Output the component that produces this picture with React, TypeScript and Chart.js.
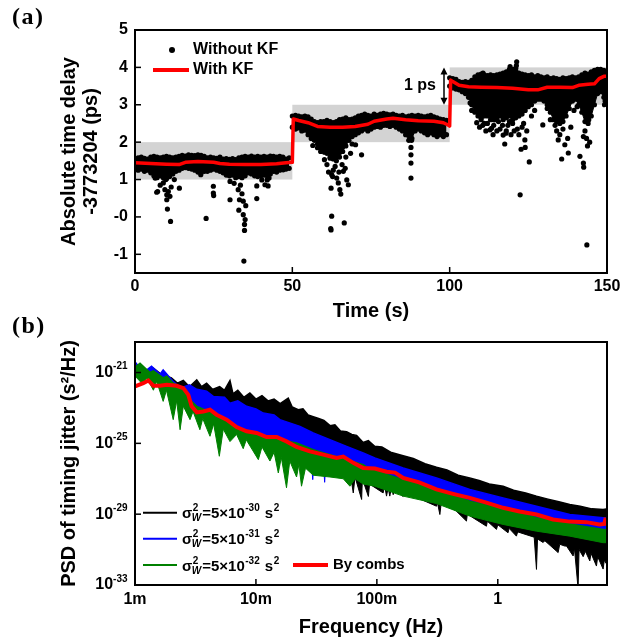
import React, { useEffect, useRef } from 'react';
import { Chart, registerables } from 'chart.js';

Chart.register(...registerables);

const FAM = '"Liberation Sans", Arial, Helvetica, sans-serif';
const SERIF = '"Liberation Serif", "Times New Roman", serif';

// ================= Panel (a) data =================
const timeTicks = [0, 50, 100, 150];
const delayTicks = [-1, 0, 1, 2, 3, 4, 5];
const delayTickLabels = ['-1', '-0', '1', '2', '3', '4', '5'];

const bandStart = [0, 50, 100];
const bandEnd = [50, 100, 150];
const bandLow = [1, 2, 3];
const bandHigh = [2, 3, 4];

const arrowTime = 98.2;
const arrowFrom = 3;
const arrowTo = 4;
const arrowLabel = '1 ps';

const legendLabelsA = ['Without KF', 'With KF'];

// dense band of "Without KF" points, one upper & one lower edge value per second
const seg1Start = 0;
const seg1Upper = [1.55, 1.58, 1.6, 1.57, 1.55, 1.6, 1.62, 1.6, 1.58, 1.6, 1.62, 1.6, 1.58, 1.6, 1.62, 1.65, 1.63, 1.66, 1.65, 1.64, 1.66, 1.65, 1.62, 1.58, 1.6, 1.58, 1.57, 1.6, 1.55, 1.56, 1.54, 1.56, 1.53, 1.58, 1.6, 1.62, 1.6, 1.63, 1.6, 1.62, 1.6, 1.62, 1.6, 1.63, 1.62, 1.6, 1.62, 1.6, 1.55, 1.58];
const seg1Lower = [1.3, 1.25, 1.28, 1.22, 1.25, 1.18, 1.1, 1.05, 1.1, 1.05, 1.02, 1.08, 1.15, 1.22, 1.25, 1.3, 1.32, 1.3, 1.28, 1.25, 1.2, 1.18, 1.22, 1.22, 1.25, 1.28, 1.25, 1.22, 1.18, 1.12, 1.1, 1.12, 1.05, 1.08, 1.05, 1.1, 1.18, 1.15, 1.1, 1.08, 1.1, 1.12, 1.1, 1.15, 1.22, 1.2, 1.25, 1.3, 1.28, 1.3];
const seg2Start = 50;
const seg2Upper = [2.7, 2.72, 2.7, 2.68, 2.7, 2.68, 2.62, 2.55, 2.52, 2.55, 2.55, 2.58, 2.55, 2.52, 2.55, 2.6, 2.62, 2.65, 2.6, 2.62, 2.65, 2.7, 2.72, 2.75, 2.72, 2.7, 2.75, 2.72, 2.75, 2.77, 2.75, 2.73, 2.75, 2.72, 2.7, 2.72, 2.68, 2.7, 2.72, 2.7, 2.72, 2.7, 2.68, 2.7, 2.72, 2.68, 2.65, 2.62, 2.6, 2.58];
const seg2Lower = [2.4, 2.35, 2.38, 2.3, 2.32, 2.2, 2.1, 2.05, 1.95, 1.85, 1.8, 1.7, 1.6, 1.55, 1.5, 1.6, 1.75, 1.9, 2.05, 2.15, 2.2, 2.25, 2.3, 2.35, 2.3, 2.35, 2.4, 2.42, 2.4, 2.45, 2.45, 2.42, 2.45, 2.4, 2.35, 2.3, 2.2, 2.05, 2.1, 2.3, 2.35, 2.3, 2.25, 2.2, 2.25, 2.2, 2.15, 2.2, 2.15, 2.2];
const seg3Start = 100;
const seg3Upper = [3.72, 3.7, 3.68, 3.62, 3.6, 3.62, 3.6, 3.65, 3.75, 3.8, 3.82, 3.8, 3.78, 3.8, 3.78, 3.8, 3.82, 3.85, 3.88, 3.9, 3.95, 3.9, 3.85, 3.82, 3.8, 3.78, 3.8, 3.75, 3.78, 3.75, 3.72, 3.75, 3.7, 3.72, 3.7, 3.68, 3.72, 3.7, 3.72, 3.75, 3.72, 3.75, 3.8, 3.85, 3.82, 3.88, 3.92, 3.95, 3.95, 3.92, 3.85];
const seg3Lower = [3.5, 3.45, 3.42, 3.4, 3.35, 3.3, 3.2, 3.0, 2.8, 2.7, 2.65, 2.7, 2.7, 2.6, 2.6, 2.65, 2.7, 2.6, 2.65, 2.7, 2.6, 2.65, 2.7, 2.75, 2.85, 2.95, 3.0, 3.1, 3.15, 3.15, 3.1, 3.0, 2.8, 2.6, 2.55, 2.5, 2.55, 2.7, 2.9, 3.1, 3.15, 3.0, 2.8, 2.55, 2.5, 2.7, 3.0, 3.3, 3.35, 3.2, 3.1];

// scattered "Without KF" points [time s, delay ps]
const withoutKFOutliers = [
  [6.4, 1.04], [6.9, 0.66], [7.2, 0.68], [8.0, 0.85], [9.0, 0.91], [9.5, 0.73], [9.8, 1.0], [10.1, 0.59], [10.6, 0.68], [11.1, 0.55],
  [10.1, 0.46], [10.3, 0.21], [11.3, -0.12], [11.5, 0.8], [12.5, 1.0], [14.1, 0.77], [20.9, 1.13], [22.6, -0.04], [24.9, 0.82], [24.9, 0.64],
  [25.0, 0.57], [30.2, 0.95], [30.2, 0.46], [31.5, 0.9], [32.8, 0.73], [33.2, 0.46], [33.5, 0.85], [34.0, 0.62], [34.4, 0.42], [33.0, 0.18],
  [35.2, 0.3], [34.4, 0.06], [35.0, -0.07], [34.8, -0.2], [34.8, -0.36], [34.6, -1.18], [38.7, 0.83], [38.7, 0.49], [40.3, 0.99], [41.3, 0.86],
  [42.0, 0.99], [42.3, 0.83], [42.6, 1.04], [47.1, 1.26],
  [56.5, 1.91], [58.0, 1.85], [59.0, 1.75], [60.2, 1.73], [60.2, 1.53], [61.0, 1.4], [61.5, 1.2], [62.0, 1.57], [62.5, 1.13], [62.8, 1.08],
  [63.0, 1.25], [63.6, 1.35], [64.1, 1.04], [64.6, 0.91], [64.8, 1.2], [65.1, 0.73], [65.4, 0.61], [62.3, 0.77], [62.5, 0.02], [62.2, -0.31],
  [62.3, -0.35], [66.5, -0.16], [66.2, 1.22], [65.8, 1.4], [66.8, 1.3], [67.0, 1.6], [67.3, 0.99], [67.8, 0.86], [68.5, 1.7], [69.0, 1.95],
  [70.1, 1.93], [72.0, 1.66], [87.7, 1.86], [87.7, 1.66], [87.7, 1.44], [87.7, 1.04], [87.9, 2.05],
  [106.5, 3.05], [107.0, 2.85], [108.6, 2.52], [110.0, 2.6], [110.6, 3.85], [111.0, 2.5], [112.0, 2.5], [112.8, 2.33], [113.3, 2.37], [114.0, 2.45],
  [115.5, 2.55], [116.0, 2.35], [117.0, 2.19], [117.5, 1.95], [117.9, 2.24], [118.5, 2.45], [119.0, 3.95], [119.2, 4.02], [119.5, 2.2], [120.0, 2.5],
  [121.0, 3.98], [121.2, 4.05], [121.3, 4.15], [121.5, 2.35], [122.4, 0.59], [122.7, 1.81], [123.0, 2.4], [123.9, 2.06], [124.0, 1.86], [124.5, 2.3],
  [125.3, 1.47], [126.0, 2.7], [127.0, 2.85], [129.6, 2.46], [131.0, 2.9], [132.0, 2.6], [133.5, 2.45], [134.0, 2.3], [134.5, 2.06], [135.0, 2.2],
  [135.6, 1.55], [136.0, 2.35], [136.6, 1.93], [137.5, 2.1], [137.7, 1.71], [138.5, 2.4], [139.5, 2.85], [140.5, 2.95], [141.4, 1.62], [142.5, 2.15],
  [142.5, 1.44], [142.6, 1.33], [143.0, 2.3], [143.5, 2.1], [143.6, -0.75], [143.8, 1.9], [144.0, 2.73], [144.2, 2.6], [144.5, 2.0], [149.2, 3.0],
  [149.3, 3.3], [149.4, 3.1], [109.5, 2.4], [111.5, 2.3], [113.8, 2.2], [115.0, 2.3], [116.8, 2.45], [118.0, 2.3], [120.5, 2.3], [122.0, 2.2],
  [123.5, 2.5], [114.5, 2.6], [119.0, 2.55], [110.5, 2.45],
];

// "With KF" (Kalman filtered) trace
const kfTimes = [0, 5, 10, 14, 16, 20, 25, 27, 30, 35, 40, 45, 48, 50, 50.3, 52, 55, 58, 62, 66, 70, 74, 76, 80, 82, 86, 90, 95, 98, 99.5, 100, 100.3, 101, 103, 106, 110, 115, 120, 125, 128, 131, 135, 139, 141, 144, 146, 147.5, 149, 150];
const kfDelays = [1.45, 1.43, 1.41, 1.4, 1.46, 1.48, 1.46, 1.43, 1.41, 1.4, 1.4, 1.42, 1.45, 1.46, 2.62, 2.58, 2.52, 2.42, 2.4, 2.4, 2.42, 2.48, 2.56, 2.62, 2.64, 2.6, 2.57, 2.56, 2.52, 2.46, 2.43, 3.66, 3.62, 3.52, 3.48, 3.47, 3.46, 3.44, 3.4, 3.4, 3.47, 3.47, 3.46, 3.52, 3.55, 3.56, 3.7, 3.76, 3.76];

// ================= Panel (b) data =================
const freqTicks = [0.001, 0.01, 0.1, 1];
const freqTickLabels = ['1m', '10m', '100m', '1'];
const psdTickExps = [-21, -25, -29, -33];
const sigmaCoef = 5;
const sigmaExps = [-30, -31, -32];
const seriesColors = ['#000000', '#0000ff', '#008000'];
const combsLabel = 'By combs';

// [frequency Hz, log10 PSD]
const blackTop = [
  [0.001, -20.94], [0.0011, -20.57], [0.00125, -21.03], [0.00142, -20.75], [0.00161, -21.05], [0.00171, -21.13], [0.002, -21.3], [0.00224, -21.6],
  [0.00251, -21.45], [0.00282, -21.8], [0.00324, -21.41], [0.00355, -21.8], [0.00391, -21.6], [0.00437, -21.95], [0.00501, -21.8], [0.0055, -22.0],
  [0.0061, -21.45], [0.00646, -22.2], [0.00708, -22.0], [0.00794, -22.4], [0.00891, -22.15], [0.01, -22.5], [0.01122, -22.3], [0.01259, -22.6],
  [0.01413, -22.5], [0.01585, -22.75], [0.0185, -22.45], [0.01995, -22.95], [0.02239, -23.1], [0.0245, -23.05], [0.027, -23.4], [0.0298, -23.5],
  [0.033, -23.6], [0.0365, -23.7], [0.041, -24.0], [0.045, -23.95], [0.05, -24.3], [0.0562, -24.35], [0.062, -24.5], [0.068, -24.55], [0.077, -24.95],
  [0.085, -24.85], [0.096, -25.17], [0.11, -25.2], [0.13, -25.5], [0.165, -25.7], [0.2, -25.85], [0.25, -26.15], [0.3112, -26.35], [0.38, -26.5],
  [0.47, -26.8], [0.5861, -26.95], [0.7, -27.1], [0.85, -27.3], [1.107, -27.42], [1.35, -27.65], [1.7, -27.8], [2.089, -27.98], [2.6, -28.15],
  [3.2, -28.3], [3.936, -28.45], [4.8, -28.55], [6.0, -28.7], [7.43, -28.74], [7.9, -28.7],
];
const blackBottom = [
  [0.001, -21.0], [0.002, -21.8], [0.004, -22.6], [0.008, -23.6], [0.015, -24.5], [0.03, -25.5], [0.05, -26.1], [0.06, -26.6], [0.0638, -27.8],
  [0.066, -26.9], [0.0748, -28.17], [0.0759, -27.0], [0.0851, -28.0], [0.087, -27.3], [0.1127, -27.8], [0.116, -27.4], [0.1202, -27.98], [0.124, -27.5],
  [0.1279, -27.98], [0.132, -27.5], [0.1365, -27.9], [0.14, -27.6], [0.165, -28.0], [0.17, -27.8], [0.22, -28.1], [0.3112, -28.55], [0.316, -28.3],
  [0.3319, -29.02], [0.34, -28.4], [0.45, -28.8], [0.5508, -29.39], [0.56, -29.0], [0.8054, -29.68], [0.82, -29.4], [0.975, -29.86], [1.0, -29.6],
  [1.216, -30.05], [1.24, -29.8], [1.426, -30.24], [1.46, -30.0], [2.0, -30.3], [2.089, -32.12], [2.13, -30.4], [2.371, -30.6], [2.45, -30.5],
  [3.155, -31.17], [3.25, -30.7], [3.581, -30.8], [3.7, -30.8], [4.198, -31.36], [4.3, -30.9], [4.613, -33.2], [4.7, -31.0], [5.082, -31.4],
  [5.3, -31.1], [5.768, -31.64], [5.9, -31.2], [6.546, -31.93], [6.7, -31.4], [7.43, -32.1], [7.6, -31.6], [7.9, -31.8],
];
const blueTop = [
  [0.001, -20.9], [0.00102, -20.47], [0.00117, -21.0], [0.00137, -20.65], [0.00161, -21.1], [0.00171, -20.85], [0.00207, -21.5], [0.00236, -21.88],
  [0.00282, -21.7], [0.00324, -21.95], [0.00391, -22.05], [0.00444, -22.35], [0.0055, -22.4], [0.0061, -22.73], [0.00708, -22.6], [0.00837, -22.91],
  [0.01, -23.05], [0.0115, -23.29], [0.01413, -23.4], [0.01578, -23.66], [0.02312, -24.04], [0.02979, -24.41], [0.04093, -24.79], [0.05623, -25.17],
  [0.07709, -25.54], [0.09616, -25.82], [0.165, -26.39], [0.3112, -26.95], [0.5861, -27.6], [1.107, -28.08], [2.089, -28.55], [3.936, -29.02],
  [7.43, -29.2], [7.9, -29.2],
];
const blueBottom = [
  [0.001, -21.0], [0.0015, -21.5], [0.002, -21.9], [0.0025, -22.2], [0.003, -23.0], [0.004, -23.6], [0.006, -24.1], [0.01, -24.8], [0.015, -25.1],
  [0.02, -25.3], [0.0285, -25.7], [0.0295, -27.05], [0.0305, -25.7], [0.036, -25.9], [0.037, -27.2], [0.038, -25.9], [0.05, -26.2], [0.1, -26.9],
  [0.3, -27.8], [0.6, -28.5], [1.1, -29.0], [2.1, -29.5], [4, -29.8], [7.9, -30.1],
];
const greenTop = [
  [0.001, -20.7], [0.0011, -20.47], [0.00133, -21.0], [0.00142, -20.9], [0.00171, -21.3], [0.00183, -21.2], [0.00207, -21.6], [0.00251, -21.9],
  [0.00285, -22.54], [0.00324, -22.91], [0.00444, -23.29], [0.0061, -23.85], [0.00837, -24.32], [0.0115, -24.6], [0.01578, -24.79], [0.02168, -24.98],
  [0.02979, -25.36], [0.04093, -25.64], [0.05623, -25.92], [0.07709, -26.2], [0.0875, -26.45], [0.165, -27.05], [0.3112, -27.6], [0.5861, -28.27],
  [1.107, -28.7], [2.089, -29.2], [3.936, -29.55], [7.43, -29.86], [7.9, -29.86],
];
const greenBottom = [
  [0.001, -21.2], [0.00117, -21.69], [0.00125, -21.3], [0.00142, -22.0], [0.00151, -21.5], [0.00171, -22.63], [0.00182, -22.0], [0.00207, -23.66],
  [0.00221, -22.6], [0.00236, -24.23], [0.00251, -22.9], [0.00285, -23.66], [0.00302, -23.2], [0.00344, -24.23], [0.00363, -23.6], [0.00417, -24.6],
  [0.00447, -23.9], [0.00498, -25.73], [0.00537, -24.2], [0.0061, -24.9], [0.00692, -24.5], [0.00785, -25.3], [0.00832, -24.8], [0.01047, -25.92],
  [0.01122, -25.2], [0.01306, -26.0], [0.01413, -25.5], [0.01531, -26.67], [0.01622, -25.8], [0.0179, -27.51], [0.01905, -26.0], [0.02168, -26.9],
  [0.02265, -26.2], [0.02382, -27.42], [0.0257, -26.4], [0.02979, -26.8], [0.04093, -26.9], [0.05272, -27.0], [0.05984, -27.42], [0.06607, -27.0],
  [0.07709, -27.3], [0.09616, -27.42], [0.165, -27.98], [0.3112, -28.4], [0.5861, -29.11], [1.107, -29.58], [2.089, -29.96], [3.936, -30.24],
  [7.43, -30.61], [7.9, -30.61],
];
const combsPsd = [
  [0.001, -21.79], [0.00117, -21.6], [0.00129, -21.45], [0.00142, -21.75], [0.00161, -21.75], [0.00183, -21.69], [0.00221, -21.75], [0.00251, -21.88],
  [0.00276, -22.26], [0.00294, -22.91], [0.00324, -23.25], [0.00367, -23.2], [0.00417, -23.1], [0.00473, -23.38], [0.00573, -23.66], [0.00692, -24.08],
  [0.00837, -24.32], [0.01014, -24.41], [0.01225, -24.64], [0.01483, -24.64], [0.0179, -24.89], [0.02168, -25.2], [0.02793, -25.45], [0.03606, -25.64],
  [0.04645, -25.82], [0.05272, -25.75], [0.06383, -26.1], [0.07709, -26.39], [0.09616, -26.42], [0.1202, -26.6], [0.1413, -26.65], [0.165, -26.95],
  [0.2239, -27.2], [0.3112, -27.6], [0.4266, -27.85], [0.5861, -28.08], [0.8054, -28.35], [1.107, -28.64], [1.514, -28.85], [2.089, -29.02],
  [2.864, -29.3], [3.936, -29.42], [5.408, -29.45], [6.918, -29.58], [7.586, -29.55], [7.816, -29.2],
];

// ================= helpers =================
const secPts = (start: number, vals: number[]) => vals.map((v, i) => ({ x: start + i, y: v }));
const pairPts = (arr: number[][]) => arr.map(([x, y]) => ({ x, y }));
const psdPts = (arr: number[][]) => arr.map(([f, e]) => ({ x: f, y: Math.pow(10, e) }));

function bandDataset(data: any[], fillNext: boolean) {
  return {
    data,
    showLine: true,
    fill: fillNext ? '+1' : false,
    borderColor: '#000',
    borderWidth: 1,
    backgroundColor: '#000',
    pointRadius: 2.6,
    pointHoverRadius: 2.6,
    pointBackgroundColor: '#000',
    pointBorderWidth: 0,
    order: 1,
  };
}

function psdDataset(data: any[], color: string, fillNext: boolean, order: number, width = 1) {
  return {
    data,
    showLine: true,
    fill: fillNext ? '+1' : false,
    borderColor: color,
    backgroundColor: color,
    borderWidth: width,
    pointRadius: 0,
    pointHoverRadius: 0,
    tension: 0,
    order,
  };
}

const tickFont = { family: FAM, size: 16, weight: 'bold' as const };
const titleFont = { family: FAM, size: 20, weight: 'bold' as const, lineHeight: 1.1 };

function drawFrameAndTicks(ctx: any, ca: any, xs: any, ys: any, xVals: number[], yVals: number[]) {
  ctx.save();
  ctx.strokeStyle = '#000';
  ctx.lineWidth = 1.5;
  xVals.forEach((v) => {
    const px = xs.getPixelForValue(v);
    ctx.beginPath();
    ctx.moveTo(px, ca.bottom);
    ctx.lineTo(px, ca.bottom - 6);
    ctx.stroke();
  });
  yVals.forEach((v) => {
    const py = ys.getPixelForValue(v);
    ctx.beginPath();
    ctx.moveTo(ca.left, py);
    ctx.lineTo(ca.left + 6, py);
    ctx.stroke();
  });
  ctx.lineWidth = 2;
  ctx.strokeRect(ca.left, ca.top, ca.right - ca.left, ca.bottom - ca.top);
  ctx.restore();
}

// ================= Panel (a) =================
const panelAPlugin = {
  id: 'panelADecor',
  beforeDatasetsDraw(chart: any) {
    const { ctx, chartArea: ca, scales } = chart;
    const xs = scales.x, ys = scales.y;
    ctx.save();
    ctx.beginPath();
    ctx.rect(ca.left, ca.top, ca.right - ca.left, ca.bottom - ca.top);
    ctx.clip();
    ctx.fillStyle = '#d3d3d3';
    for (let i = 0; i < bandStart.length; i++) {
      const x0 = xs.getPixelForValue(bandStart[i]);
      const x1 = xs.getPixelForValue(bandEnd[i]);
      const y0 = ys.getPixelForValue(bandHigh[i]);
      const y1 = ys.getPixelForValue(bandLow[i]);
      ctx.fillRect(x0, y0, x1 - x0, y1 - y0);
    }
    ctx.restore();
  },
  afterDraw(chart: any) {
    const { ctx, chartArea: ca, scales } = chart;
    const xs = scales.x, ys = scales.y;
    drawFrameAndTicks(ctx, ca, xs, ys, timeTicks, delayTicks);
    ctx.save();
    // arrow "1 ps"
    const ax = xs.getPixelForValue(arrowTime);
    const yTop = ys.getPixelForValue(arrowTo);
    const yBot = ys.getPixelForValue(arrowFrom);
    ctx.strokeStyle = '#000';
    ctx.fillStyle = '#000';
    ctx.lineWidth = 1.5;
    ctx.beginPath();
    ctx.moveTo(ax, yTop + 4);
    ctx.lineTo(ax, yBot - 4);
    ctx.stroke();
    ctx.beginPath();
    ctx.moveTo(ax, yTop);
    ctx.lineTo(ax - 3.5, yTop + 7);
    ctx.lineTo(ax + 3.5, yTop + 7);
    ctx.closePath();
    ctx.fill();
    ctx.beginPath();
    ctx.moveTo(ax, yBot);
    ctx.lineTo(ax - 3.5, yBot - 7);
    ctx.lineTo(ax + 3.5, yBot - 7);
    ctx.closePath();
    ctx.fill();
    ctx.font = `bold 16px ${FAM}`;
    ctx.textAlign = 'right';
    ctx.textBaseline = 'middle';
    ctx.fillText(arrowLabel, ax - 8, (yTop + yBot) / 2);
    // legend
    const lx = ca.left, ly = ca.top;
    ctx.beginPath();
    ctx.arc(lx + 37, ly + 20, 3, 0, Math.PI * 2);
    ctx.fill();
    ctx.textAlign = 'left';
    ctx.fillText(legendLabelsA[0], lx + 58, ly + 20);
    ctx.strokeStyle = '#ff0000';
    ctx.lineWidth = 4;
    ctx.beginPath();
    ctx.moveTo(lx + 18, ly + 40);
    ctx.lineTo(lx + 54, ly + 40);
    ctx.stroke();
    ctx.fillText(legendLabelsA[1], lx + 58, ly + 40);
    ctx.restore();
  },
};

function PanelA() {
  const ref = useRef<HTMLCanvasElement>(null);
  useEffect(() => {
    const datasets: any[] = [
      bandDataset(secPts(seg1Start, seg1Upper), true),
      bandDataset(secPts(seg1Start, seg1Lower), false),
      bandDataset(secPts(seg2Start, seg2Upper), true),
      bandDataset(secPts(seg2Start, seg2Lower), false),
      bandDataset(secPts(seg3Start, seg3Upper), true),
      bandDataset(secPts(seg3Start, seg3Lower), false),
      {
        data: pairPts(withoutKFOutliers),
        showLine: false,
        pointRadius: 2.6,
        pointHoverRadius: 2.6,
        pointBackgroundColor: '#000',
        pointBorderWidth: 0,
        backgroundColor: '#000',
        borderColor: '#000',
        order: 1,
      },
      {
        data: kfTimes.map((t, i) => ({ x: t, y: kfDelays[i] })),
        showLine: true,
        borderColor: '#ff0000',
        borderWidth: 3.5,
        pointRadius: 0,
        pointHoverRadius: 0,
        tension: 0,
        borderJoinStyle: 'round',
        fill: false,
        order: -1,
      },
    ];
    const chart = new Chart(ref.current as HTMLCanvasElement, {
      type: 'line',
      data: { datasets },
      options: {
        animation: false,
        responsive: false,
        events: [],
        layout: { padding: { top: 30, right: 23, left: 0, bottom: 0 } },
        plugins: { legend: { display: false }, tooltip: { enabled: false } },
        scales: {
          x: {
            type: 'linear',
            min: 0,
            max: 150,
            afterBuildTicks: (s: any) => { s.ticks = timeTicks.map((v) => ({ value: v })); },
            afterFit: (s: any) => { s.height = 55; },
            grid: { display: false, drawTicks: false },
            border: { display: false },
            ticks: { padding: 4, font: tickFont, color: '#000', autoSkip: false, maxRotation: 0, callback: (v: any) => String(v) },
            title: { display: true, text: 'Time (s)', font: titleFont, color: '#000', padding: { top: 0, bottom: 6 } },
          },
          y: {
            type: 'linear',
            min: -1.5,
            max: 5,
            afterBuildTicks: (s: any) => { s.ticks = delayTicks.map((v) => ({ value: v })); },
            afterFit: (s: any) => { s.width = 135; },
            grid: { display: false, drawTicks: false },
            border: { display: false },
            ticks: { padding: 7, font: tickFont, color: '#000', autoSkip: false, callback: (v: any) => delayTickLabels[delayTicks.indexOf(v)] },
            title: { display: true, text: ['Absolute time delay', '-3773204 (ps)'], font: titleFont, color: '#000', padding: { top: 58, bottom: 0 } },
          },
        },
      } as any,
      plugins: [panelAPlugin],
    });
    return () => chart.destroy();
  }, []);
  return <canvas ref={ref} width={630} height={328} style={{ position: 'absolute', left: 0, top: 0, width: 630, height: 328 }} />;
}

// ================= Panel (b) =================
function drawSigmaLabel(ctx: any, x0: number, y: number, exp: number) {
  const big = `bold 15px ${FAM}`;
  const small = `bold 10px ${FAM}`;
  const smallIt = `italic bold 10px ${FAM}`;
  let x = x0;
  const base = y + 5.5;
  ctx.textAlign = 'left';
  ctx.textBaseline = 'alphabetic';
  ctx.fillStyle = '#000';
  ctx.font = big;
  ctx.fillText('σ', x, base);
  x += ctx.measureText('σ').width + 0.5;
  ctx.font = small;
  ctx.fillText('2', x, base - 7);
  const w2 = ctx.measureText('2').width;
  ctx.font = smallIt;
  ctx.fillText('W', x - 1, base + 3);
  const wW = ctx.measureText('W').width - 1;
  x += Math.max(w2, wW) + 1;
  ctx.font = big;
  const mid = `=${sigmaCoef}×10`;
  ctx.fillText(mid, x, base);
  x += ctx.measureText(mid).width;
  ctx.font = small;
  const es = String(exp);
  ctx.fillText(es, x + 0.5, base - 7);
  x += ctx.measureText(es).width + 1.5;
  ctx.font = big;
  ctx.fillText(' s', x, base);
  x += ctx.measureText(' s').width;
  ctx.font = small;
  ctx.fillText('2', x + 0.5, base - 7);
}

const panelBPlugin = {
  id: 'panelBDecor',
  afterDraw(chart: any) {
    const { ctx, chartArea: ca, scales } = chart;
    const xs = scales.x, ys = scales.y;
    drawFrameAndTicks(ctx, ca, xs, ys, freqTicks, psdTickExps.map((e) => Math.pow(10, e)));
    ctx.save();
    // y tick labels 10^n
    const right = ca.left - 7.5;
    ctx.fillStyle = '#000';
    ctx.textAlign = 'left';
    ctx.textBaseline = 'middle';
    psdTickExps.forEach((e) => {
      const py = ys.getPixelForValue(Math.pow(10, e));
      const es = String(e);
      ctx.font = `bold 10px ${FAM}`;
      const we = ctx.measureText(es).width;
      ctx.font = `bold 16px ${FAM}`;
      const wb = ctx.measureText('10').width;
      ctx.fillText('10', right - we - wb, py);
      ctx.font = `bold 10px ${FAM}`;
      ctx.fillText(es, right - we, py - 6);
    });
    // legend
    const rows = [ca.top + 170.7, ca.top + 196.7, ca.top + 223];
    sigmaExps.forEach((e, i) => {
      ctx.strokeStyle = seriesColors[i];
      ctx.lineWidth = 2;
      ctx.beginPath();
      ctx.moveTo(ca.left + 8, rows[i]);
      ctx.lineTo(ca.left + 42, rows[i]);
      ctx.stroke();
      drawSigmaLabel(ctx, ca.left + 47, rows[i], e);
    });
    ctx.strokeStyle = '#ff0000';
    ctx.lineWidth = 4;
    ctx.beginPath();
    ctx.moveTo(ca.left + 158, rows[2]);
    ctx.lineTo(ca.left + 193, rows[2]);
    ctx.stroke();
    ctx.font = `bold 15px ${FAM}`;
    ctx.textAlign = 'left';
    ctx.textBaseline = 'middle';
    ctx.fillStyle = '#000';
    ctx.fillText(combsLabel, ca.left + 198, rows[2]);
    ctx.restore();
  },
};

function PanelB() {
  const ref = useRef<HTMLCanvasElement>(null);
  useEffect(() => {
    const datasets: any[] = [
      psdDataset(psdPts(blackTop), seriesColors[0], true, 6, 1.5),
      psdDataset(psdPts(blackBottom), seriesColors[0], false, 7),
      psdDataset(psdPts(blueTop), seriesColors[1], true, 4, 1.5),
      psdDataset(psdPts(blueBottom), seriesColors[1], false, 5),
      psdDataset(psdPts(greenTop), seriesColors[2], true, 2, 1.5),
      psdDataset(psdPts(greenBottom), seriesColors[2], false, 3),
      psdDataset(psdPts(combsPsd), '#ff0000', false, 0, 4),
    ];
    const chart = new Chart(ref.current as HTMLCanvasElement, {
      type: 'line',
      data: { datasets },
      options: {
        animation: false,
        responsive: false,
        events: [],
        layout: { padding: { top: 14, right: 23, left: 0, bottom: 0 } },
        plugins: { legend: { display: false }, tooltip: { enabled: false } },
        scales: {
          x: {
            type: 'logarithmic',
            min: 0.001,
            max: 8,
            afterBuildTicks: (s: any) => { s.ticks = freqTicks.map((v) => ({ value: v })); },
            afterFit: (s: any) => { s.height = 56; },
            grid: { display: false, drawTicks: false },
            border: { display: false },
            ticks: { padding: 5, font: tickFont, color: '#000', autoSkip: false, maxRotation: 0, callback: (v: any) => freqTickLabels[freqTicks.indexOf(v)] ?? '' },
            title: { display: true, text: 'Frequency (Hz)', font: titleFont, color: '#000', padding: { top: 0, bottom: 2.5 } },
          },
          y: {
            type: 'logarithmic',
            min: 1e-33,
            max: 5.3e-20,
            afterBuildTicks: (s: any) => { s.ticks = psdTickExps.map((e) => ({ value: Math.pow(10, e) })); },
            afterFit: (s: any) => { s.width = 135; },
            grid: { display: false, drawTicks: false },
            border: { display: false },
            ticks: { display: false },
            title: { display: true, text: 'PSD of timing jitter (s²/Hz)', font: titleFont, color: '#000', padding: { top: 58, bottom: 0 } },
          },
        },
      } as any,
      plugins: [panelBPlugin],
    });
    return () => chart.destroy();
  }, []);
  return <canvas ref={ref} width={630} height={313} style={{ position: 'absolute', left: 0, top: 328, width: 630, height: 313 }} />;
}

const panelLabelStyle: React.CSSProperties = {
  position: 'absolute',
  left: 12,
  fontFamily: SERIF,
  fontWeight: 'bold',
  fontSize: 24,
  lineHeight: '24px',
  letterSpacing: 1.5,
  color: '#000',
};

export default function App() {
  return (
    <div style={{ position: 'absolute', left: 0, top: 0, width: 630, height: 641, background: '#fff', overflow: 'hidden' }}>
      <PanelA />
      <PanelB />
      <div style={{ ...panelLabelStyle, top: 4 }}>(a)</div>
      <div style={{ ...panelLabelStyle, top: 313 }}>(b)</div>
    </div>
  );
}
